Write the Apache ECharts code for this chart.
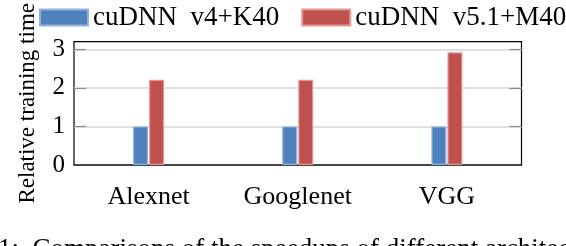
<!DOCTYPE html>
<html>
<head>
<meta charset="utf-8">
<script src="https://cdn.jsdelivr.net/npm/echarts@6/dist/echarts.min.js"></script>
<style>html,body{margin:0;padding:0;background:#fff}#c{width:566px;height:246px}</style>
</head>
<body>
<div id="c"></div>
<script>
const categories = ['Alexnet', 'Googlenet', 'VGG'];
const seriesNames = ['cuDNN\u00a0\u00a0v4+K40', 'cuDNN\u00a0\u00a0v5.1+M40'];
const v4K40 = [1, 1, 1];
const v51M40 = [2.21, 2.21, 2.92];
const yTicks = [0, 1, 2, 3];
const caption = '1:\u00a0\u00a0Comparisons of the speedups of different architectures';

const FONT = 'Liberation Serif';
const chart = echarts.init(document.getElementById('c'), null, {renderer: 'canvas'});
const yBase = {
  type: 'value', min: 0, max: 3.2, interval: 1,
  splitLine: {show: false},
  axisLine: {show: false},
  axisTick: {show: true, inside: true, length: 12, lineStyle: {color: '#8c8c8c', width: 1.2},
    customValues: yTicks.slice(1)},
};
chart.setOption({
  animation: false,
  textStyle: {fontFamily: FONT},
  legend: {
    left: 39, top: 4, width: 700, padding: 0, itemWidth: 48, itemHeight: 16, itemGap: 22,
    icon: 'rect',
    textStyle: {fontFamily: FONT, fontSize: 27, color: '#000'},
    data: seriesNames
  },
  grid: {left: 74, right: 44.5, top: 37, bottom: 81, show: true, borderColor: '#000', borderWidth: 1.2},
  xAxis: {
    type: 'category', data: categories,
    axisLine: {show: true, lineStyle: {color: '#333', width: 1.5}},
    axisTick: {show: false},
    axisLabel: {fontFamily: FONT, fontSize: 26, color: '#000', margin: 19}
  },
  yAxis: [
    Object.assign({}, yBase, {
      position: 'left',
      name: 'Relative training time', nameLocation: 'middle', nameGap: 35,
      nameTextStyle: {fontFamily: FONT, fontSize: 23, color: '#000'},
      splitLine: {show: true, lineStyle: {color: '#d6d6d6', width: 1.5}},
      axisLabel: {fontFamily: FONT, fontSize: 25, color: '#000', margin: 9, customValues: yTicks}
    }),
    Object.assign({}, yBase, {position: 'right', axisLabel: {show: false}})
  ],
  series: [
    {name: seriesNames[0], type: 'bar', data: v4K40, barWidth: 15, barGap: '7%',
      itemStyle: {color: '#4f81bd', borderColor: '#93b3dc', borderWidth: 1.2}},
    {name: seriesNames[1], type: 'bar', data: v51M40, barWidth: 15, barGap: '7%',
      itemStyle: {color: '#c0504d', borderColor: '#e09896', borderWidth: 1.2}}
  ],
  graphic: [{
    type: 'text', left: -2, top: 236,
    style: {text: caption, fontFamily: FONT, fontSize: 27, fill: '#000'}
  }]
});
</script>
</body>
</html>
